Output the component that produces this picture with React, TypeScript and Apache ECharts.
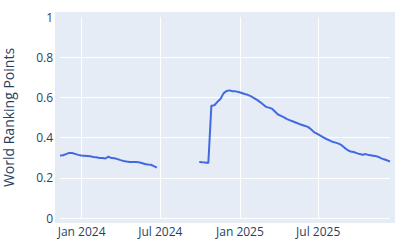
import React, { useEffect, useRef } from "react";
import * as echarts from "echarts";

// Weekly dates start (Sunday)
const startYear = 2023;
const startMonth = 10; // November (0-based)
const startDay = 12;

// World Ranking Points, weekly (null = no ranking)
const points: (number | null)[] = [
  0.311, 0.312, 0.318, 0.324, 0.323, 0.319, 0.314, 0.311, 0.31, 0.309,
  0.307, 0.304, 0.302, 0.299, 0.298, 0.296, 0.305, 0.298, 0.297, 0.293,
  0.288, 0.284, 0.281, 0.279, 0.278, 0.278, 0.277, 0.274, 0.269, 0.266,
  0.265, 0.258, 0.251,
  null, null, null, null, null, null, null, null, null, null, null, null, null,
  0.279, 0.277, 0.276, 0.274, 0.559, 0.561, 0.578, 0.592, 0.62, 0.632,
  0.635, 0.631, 0.63, 0.627, 0.622, 0.617, 0.613, 0.606, 0.597, 0.589,
  0.578, 0.566, 0.553, 0.549, 0.544, 0.53, 0.515, 0.508, 0.501, 0.492,
  0.486, 0.48, 0.474, 0.468, 0.463, 0.458, 0.452, 0.44, 0.426, 0.418,
  0.41, 0.401, 0.393, 0.386, 0.379, 0.375, 0.37, 0.362, 0.349, 0.338,
  0.331, 0.328, 0.323, 0.318, 0.315, 0.318, 0.313, 0.311, 0.309, 0.305,
  0.298, 0.292, 0.287, 0.281,
];

const xTickDates: [number, number][] = [
  [2024, 0],
  [2024, 6],
  [2025, 0],
  [2025, 6],
];
const monthNames = ["Jan", "Feb", "Mar", "Apr", "May", "Jun", "Jul", "Aug", "Sep", "Oct", "Nov", "Dec"];
const yTicks = [0, 0.2, 0.4, 0.6, 0.8, 1];

export default function App() {
  const ref = useRef<HTMLDivElement>(null);
  useEffect(() => {
    if (!ref.current) return;
    document.body.style.margin = "0";
    const chart = echarts.init(ref.current, undefined, { renderer: "svg" });
    const data = points.map((v, i) => [
      new Date(startYear, startMonth, startDay + 7 * i).getTime(),
      v,
    ]);
    const xMin = data[0][0] as number;
    const xMax = data[data.length - 1][0] as number;
    const tickVals = xTickDates.map(([y, m]) => new Date(y, m, 1).getTime());
    const font = "'Open Sans', verdana, arial, sans-serif";
    const textColor = "#2a3f5f";
    chart.setOption({
      animation: false,
      textStyle: { fontFamily: font },
      graphic: [
        {
          type: "rect",
          z: -100,
          silent: true,
          shape: { x: 55, y: 12, width: 340, height: 211 },
          style: { fill: "#E5ECF6" },
        },
      ],
      grid: {
        left: 60,
        right: 10,
        top: 17,
        height: 201,
        containLabel: false,
        outerBoundsMode: "none",
      },
      xAxis: {
        type: "value",
        min: xMin,
        max: xMax,
        axisLine: { show: false },
        axisTick: { show: false, customValues: tickVals },
        splitLine: { show: true, lineStyle: { color: "#ffffff", width: 1 } },
        axisLabel: {
          customValues: tickVals,
          color: textColor,
          fontSize: 12,
          fontFamily: font,
          margin: 7,
          hideOverlap: false,
          formatter: (v: number) => {
            const d = new Date(v);
            return `${monthNames[d.getMonth()]} ${d.getFullYear()}`;
          },
        },
      },
      yAxis: {
        type: "value",
        min: 0,
        max: 1,
        interval: 0.2,
        name: "World Ranking Points",
        nameLocation: "middle",
        nameGap: 45,
        nameTextStyle: { color: textColor, fontSize: 14, fontFamily: font },
        axisLine: { show: false },
        axisTick: { show: false },
        splitLine: {
          show: true,
          showMaxLine: false,
          lineStyle: { color: "#ffffff", width: 1 },
        },
        axisLabel: {
          color: textColor,
          fontSize: 12,
          fontFamily: font,
          margin: 7,
          formatter: (v: number) => {
            const t = yTicks.find((y) => Math.abs(y - v) < 1e-9);
            return String(t !== undefined ? t : Number(v.toFixed(1)));
          },
        },
      },
      series: [
        {
          type: "line",
          data,
          showSymbol: false,
          connectNulls: false,
          lineStyle: { color: "#4169E1", width: 2 },
          itemStyle: { color: "#4169E1" },
        },
      ],
    });
    return () => chart.dispose();
  }, []);
  return <div ref={ref} style={{ width: 400, height: 250 }} />;
}
